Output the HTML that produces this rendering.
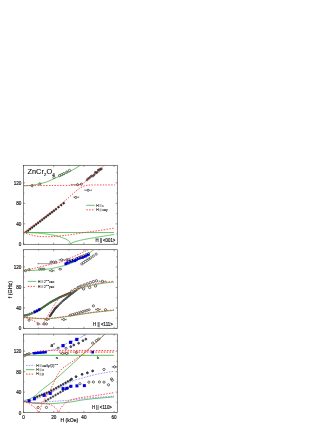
<!DOCTYPE html>
<html><head><meta charset="utf-8"><style>
html,body{margin:0;padding:0;background:#fff;}
svg{display:block;font-family:"Liberation Sans",sans-serif;}
text{stroke:#111;stroke-width:0.16px;} .lg{stroke-width:0.08px;}
</style></head><body>
<svg width="332" height="430" viewBox="0 0 332 430" style="will-change:transform">
<rect width="332" height="430" fill="#fff"/>
<defs>
<clipPath id="c0"><rect x="23.50" y="165.30" width="93.80" height="79.00"/></clipPath>
<clipPath id="c1"><rect x="23.50" y="249.70" width="93.80" height="78.70"/></clipPath>
<clipPath id="c2"><rect x="23.50" y="334.10" width="93.80" height="78.50"/></clipPath>
</defs>
<rect x="23.50" y="165.30" width="93.80" height="79.00" fill="none" stroke="#444" stroke-width="0.65"/>
<path d="M23.50 244.30h1.60 M117.30 244.30h-1.60 M23.50 234.06h0.90 M117.30 234.06h-0.90 M23.50 223.82h1.60 M117.30 223.82h-1.60 M23.50 213.58h0.90 M117.30 213.58h-0.90 M23.50 203.34h1.60 M117.30 203.34h-1.60 M23.50 193.10h0.90 M117.30 193.10h-0.90 M23.50 182.86h1.60 M117.30 182.86h-1.60 M23.50 172.62h0.90 M117.30 172.62h-0.90 M23.50 244.30v-1.60 M23.50 165.30v1.60 M38.60 244.30v-0.90 M38.60 165.30v0.90 M53.70 244.30v-1.60 M53.70 165.30v1.60 M68.80 244.30v-0.90 M68.80 165.30v0.90 M83.90 244.30v-1.60 M83.90 165.30v1.60 M99.00 244.30v-0.90 M99.00 165.30v0.90 M114.10 244.30v-1.60 M114.10 165.30v1.60 " stroke="#444" stroke-width="0.55" fill="none"/>
<rect x="23.50" y="249.70" width="93.80" height="78.70" fill="none" stroke="#444" stroke-width="0.65"/>
<path d="M23.50 328.40h1.60 M117.30 328.40h-1.60 M23.50 318.16h0.90 M117.30 318.16h-0.90 M23.50 307.92h1.60 M117.30 307.92h-1.60 M23.50 297.68h0.90 M117.30 297.68h-0.90 M23.50 287.44h1.60 M117.30 287.44h-1.60 M23.50 277.20h0.90 M117.30 277.20h-0.90 M23.50 266.96h1.60 M117.30 266.96h-1.60 M23.50 256.72h0.90 M117.30 256.72h-0.90 M23.50 328.40v-1.60 M23.50 249.70v1.60 M38.60 328.40v-0.90 M38.60 249.70v0.90 M53.70 328.40v-1.60 M53.70 249.70v1.60 M68.80 328.40v-0.90 M68.80 249.70v0.90 M83.90 328.40v-1.60 M83.90 249.70v1.60 M99.00 328.40v-0.90 M99.00 249.70v0.90 M114.10 328.40v-1.60 M114.10 249.70v1.60 " stroke="#444" stroke-width="0.55" fill="none"/>
<rect x="23.50" y="334.10" width="93.80" height="78.50" fill="none" stroke="#444" stroke-width="0.65"/>
<path d="M23.50 412.60h1.60 M117.30 412.60h-1.60 M23.50 402.36h0.90 M117.30 402.36h-0.90 M23.50 392.12h1.60 M117.30 392.12h-1.60 M23.50 381.88h0.90 M117.30 381.88h-0.90 M23.50 371.64h1.60 M117.30 371.64h-1.60 M23.50 361.40h0.90 M117.30 361.40h-0.90 M23.50 351.16h1.60 M117.30 351.16h-1.60 M23.50 340.92h0.90 M117.30 340.92h-0.90 M23.50 412.60v-1.60 M23.50 334.10v1.60 M38.60 412.60v-0.90 M38.60 334.10v0.90 M53.70 412.60v-1.60 M53.70 334.10v1.60 M68.80 412.60v-0.90 M68.80 334.10v0.90 M83.90 412.60v-1.60 M83.90 334.10v1.60 M99.00 412.60v-0.90 M99.00 334.10v0.90 M114.10 412.60v-1.60 M114.10 334.10v1.60 " stroke="#444" stroke-width="0.55" fill="none"/>
<text transform="translate(12.2,289.6) rotate(-90)" font-size="5.3" text-anchor="middle" fill="#111">f (GHz)</text>
<path d="M86.3 205.3H94.8" stroke="#33a833" stroke-width="0.7"/>
<path d="M86.3 209.8H94.8" stroke="#ff1a1a" stroke-width="0.8" stroke-dasharray="1.5 1.3"/>
<ellipse cx="60.19" cy="269.16" rx="1.5" ry="0.8" fill="#fff" stroke="#000" stroke-width="0.55"/>
<path d="M27.8 281.4H36.3" stroke="#33a833" stroke-width="0.7"/>
<path d="M27.8 286.4H36.3" stroke="#ff1a1a" stroke-width="0.8" stroke-dasharray="1.5 1.3"/>
<text x="55.80" y="359.00" font-size="4" font-weight="bold" fill="#33a833">a</text>
<text x="96.80" y="358.60" font-size="4" font-weight="bold" fill="#33a833">b</text>
<path d="M26 365.4H34.3" stroke="#3030ff" stroke-width="0.7" stroke-dasharray="0.65 0.95"/>
<path d="M26 369.7H34.3" stroke="#33a833" stroke-width="0.8"/>
<path d="M26 374.1H34.3" stroke="#ff1a1a" stroke-width="0.8" stroke-dasharray="1.5 1.3"/>
<circle cx="26.22" cy="232.07" r="0.90" fill="#333" stroke="#000" stroke-width="0.50" opacity="1.00"/>
<circle cx="28.20" cy="230.54" r="0.90" fill="#333" stroke="#000" stroke-width="0.50" opacity="1.00"/>
<circle cx="30.18" cy="229.02" r="0.90" fill="#333" stroke="#000" stroke-width="0.50" opacity="1.00"/>
<circle cx="32.17" cy="227.49" r="0.90" fill="#333" stroke="#000" stroke-width="0.50" opacity="1.00"/>
<circle cx="34.15" cy="225.96" r="0.90" fill="#333" stroke="#000" stroke-width="0.50" opacity="1.00"/>
<circle cx="36.13" cy="224.44" r="0.90" fill="#333" stroke="#000" stroke-width="0.50" opacity="1.00"/>
<circle cx="38.12" cy="222.91" r="0.90" fill="#333" stroke="#000" stroke-width="0.50" opacity="1.00"/>
<circle cx="40.10" cy="221.39" r="0.90" fill="#333" stroke="#000" stroke-width="0.50" opacity="1.00"/>
<circle cx="42.08" cy="219.86" r="0.90" fill="#333" stroke="#000" stroke-width="0.50" opacity="1.00"/>
<circle cx="44.07" cy="218.33" r="0.90" fill="#333" stroke="#000" stroke-width="0.50" opacity="1.00"/>
<circle cx="46.05" cy="216.81" r="0.90" fill="#333" stroke="#000" stroke-width="0.50" opacity="1.00"/>
<circle cx="48.03" cy="215.28" r="0.90" fill="#333" stroke="#000" stroke-width="0.50" opacity="1.00"/>
<circle cx="50.02" cy="213.75" r="0.90" fill="#333" stroke="#000" stroke-width="0.50" opacity="1.00"/>
<circle cx="52.00" cy="212.23" r="0.90" fill="#333" stroke="#000" stroke-width="0.50" opacity="1.00"/>
<circle cx="53.98" cy="210.70" r="0.90" fill="#333" stroke="#000" stroke-width="0.50" opacity="1.00"/>
<circle cx="55.97" cy="209.17" r="0.90" fill="#333" stroke="#000" stroke-width="0.50" opacity="1.00"/>
<circle cx="58.53" cy="207.20" r="0.90" fill="#333" stroke="#000" stroke-width="0.50" opacity="1.00"/>
<circle cx="61.25" cy="205.11" r="0.90" fill="#333" stroke="#000" stroke-width="0.50" opacity="1.00"/>
<circle cx="63.67" cy="203.25" r="0.90" fill="#333" stroke="#000" stroke-width="0.50" opacity="1.00"/>
<circle cx="86.92" cy="180.07" r="0.90" fill="#999" stroke="#000" stroke-width="0.50" opacity="1.00"/>
<circle cx="88.13" cy="178.58" r="0.90" fill="#999" stroke="#000" stroke-width="0.50" opacity="1.00"/>
<circle cx="89.34" cy="178.08" r="0.90" fill="#999" stroke="#000" stroke-width="0.50" opacity="1.00"/>
<circle cx="90.54" cy="176.74" r="0.90" fill="#999" stroke="#000" stroke-width="0.50" opacity="1.00"/>
<circle cx="91.75" cy="175.83" r="0.90" fill="#999" stroke="#000" stroke-width="0.50" opacity="1.00"/>
<circle cx="92.96" cy="176.12" r="0.90" fill="#999" stroke="#000" stroke-width="0.50" opacity="1.00"/>
<circle cx="94.32" cy="174.64" r="0.90" fill="#777" stroke="#000" stroke-width="0.50" opacity="1.00"/>
<circle cx="95.33" cy="172.28" r="0.90" fill="#777" stroke="#000" stroke-width="0.50" opacity="1.00"/>
<circle cx="96.35" cy="172.80" r="0.90" fill="#777" stroke="#000" stroke-width="0.50" opacity="1.00"/>
<circle cx="97.36" cy="172.18" r="0.90" fill="#777" stroke="#000" stroke-width="0.50" opacity="1.00"/>
<circle cx="98.37" cy="169.95" r="0.90" fill="#777" stroke="#000" stroke-width="0.50" opacity="1.00"/>
<circle cx="99.39" cy="170.35" r="0.90" fill="#777" stroke="#000" stroke-width="0.50" opacity="1.00"/>
<circle cx="100.40" cy="168.93" r="0.90" fill="#777" stroke="#000" stroke-width="0.50" opacity="1.00"/>
<circle cx="101.42" cy="169.00" r="0.90" fill="#777" stroke="#000" stroke-width="0.50" opacity="1.00"/>
<circle cx="32.11" cy="185.68" r="1.15" fill="#fff" stroke="#000" stroke-width="0.55" opacity="1.00"/>
<circle cx="39.81" cy="183.88" r="1.15" fill="#fff" stroke="#000" stroke-width="0.55" opacity="1.00"/>
<circle cx="54.00" cy="177.48" r="1.15" fill="#fff" stroke="#000" stroke-width="0.55" opacity="1.00"/>
<circle cx="59.59" cy="175.69" r="1.15" fill="#fff" stroke="#000" stroke-width="0.55" opacity="1.00"/>
<circle cx="63.82" cy="173.64" r="1.15" fill="#fff" stroke="#000" stroke-width="0.55" opacity="1.00"/>
<circle cx="66.84" cy="172.11" r="1.15" fill="#fff" stroke="#000" stroke-width="0.55" opacity="1.00"/>
<circle cx="69.56" cy="170.57" r="1.15" fill="#fff" stroke="#000" stroke-width="0.55" opacity="1.00"/>
<circle cx="61.70" cy="174.67" r="1.15" fill="#fff" stroke="#000" stroke-width="0.55" opacity="1.00"/>
<path d="M71.22 184.65H81.48 M71.22 183.85v1.6 M81.48 183.85v1.6" stroke="#333" stroke-width="0.45" fill="none"/>
<circle cx="77.56" cy="184.65" r="1.05" fill="#fff" stroke="#000" stroke-width="0.55" opacity="1.00"/>
<circle cx="81.33" cy="184.14" r="1.05" fill="#fff" stroke="#000" stroke-width="0.55" opacity="1.00"/>
<path d="M84.81 190.28H91.45 M84.81 189.48v1.6 M91.45 189.48v1.6" stroke="#333" stroke-width="0.45" fill="none"/>
<circle cx="88.13" cy="190.28" r="1.05" fill="#fff" stroke="#000" stroke-width="0.55" opacity="1.00"/>
<path d="M73.93 197.20H78.77 M73.93 196.40v1.6 M78.77 196.40v1.6" stroke="#333" stroke-width="0.45" fill="none"/>
<circle cx="75.75" cy="197.45" r="1.05" fill="#fff" stroke="#000" stroke-width="0.55" opacity="1.00"/>
<circle cx="49.92" cy="316.16" r="0.85" fill="#666" stroke="#000" stroke-width="0.50" opacity="1.00"/>
<circle cx="50.68" cy="315.06" r="0.85" fill="#666" stroke="#000" stroke-width="0.50" opacity="1.00"/>
<circle cx="51.44" cy="313.95" r="0.85" fill="#666" stroke="#000" stroke-width="0.50" opacity="1.00"/>
<circle cx="52.19" cy="312.84" r="0.85" fill="#666" stroke="#000" stroke-width="0.50" opacity="1.00"/>
<circle cx="52.95" cy="311.74" r="0.85" fill="#666" stroke="#000" stroke-width="0.50" opacity="1.00"/>
<circle cx="53.70" cy="310.63" r="0.85" fill="#666" stroke="#000" stroke-width="0.50" opacity="1.00"/>
<circle cx="54.45" cy="309.52" r="0.85" fill="#666" stroke="#000" stroke-width="0.50" opacity="1.00"/>
<circle cx="55.21" cy="308.49" r="0.85" fill="#666" stroke="#000" stroke-width="0.50" opacity="1.00"/>
<circle cx="55.97" cy="307.74" r="0.85" fill="#666" stroke="#000" stroke-width="0.50" opacity="1.00"/>
<circle cx="56.72" cy="306.99" r="0.85" fill="#666" stroke="#000" stroke-width="0.50" opacity="1.00"/>
<circle cx="57.93" cy="305.79" r="0.85" fill="#666" stroke="#000" stroke-width="0.50" opacity="1.00"/>
<circle cx="59.46" cy="304.27" r="0.85" fill="#666" stroke="#000" stroke-width="0.50" opacity="1.00"/>
<circle cx="61.00" cy="302.75" r="0.85" fill="#666" stroke="#000" stroke-width="0.50" opacity="1.00"/>
<circle cx="62.53" cy="301.23" r="0.85" fill="#666" stroke="#000" stroke-width="0.50" opacity="1.00"/>
<circle cx="64.07" cy="299.94" r="0.85" fill="#666" stroke="#000" stroke-width="0.50" opacity="1.00"/>
<circle cx="65.60" cy="298.69" r="0.85" fill="#666" stroke="#000" stroke-width="0.50" opacity="1.00"/>
<circle cx="67.14" cy="297.43" r="0.85" fill="#666" stroke="#000" stroke-width="0.50" opacity="1.00"/>
<circle cx="68.67" cy="296.18" r="0.85" fill="#666" stroke="#000" stroke-width="0.50" opacity="1.00"/>
<circle cx="70.21" cy="294.93" r="0.85" fill="#666" stroke="#000" stroke-width="0.50" opacity="1.00"/>
<circle cx="71.74" cy="293.75" r="0.85" fill="#666" stroke="#000" stroke-width="0.50" opacity="1.00"/>
<circle cx="73.28" cy="292.58" r="0.85" fill="#666" stroke="#000" stroke-width="0.50" opacity="1.00"/>
<circle cx="74.81" cy="291.40" r="0.85" fill="#666" stroke="#000" stroke-width="0.50" opacity="1.00"/>
<circle cx="76.35" cy="290.23" r="0.85" fill="#666" stroke="#000" stroke-width="0.50" opacity="1.00"/>
<circle cx="25.01" cy="315.41" r="0.95" fill="#999" stroke="#000" stroke-width="0.55" opacity="1.00"/>
<circle cx="27.27" cy="314.98" r="0.95" fill="#999" stroke="#000" stroke-width="0.55" opacity="1.00"/>
<circle cx="29.54" cy="314.20" r="0.95" fill="#999" stroke="#000" stroke-width="0.55" opacity="1.00"/>
<circle cx="31.80" cy="313.25" r="0.95" fill="#999" stroke="#000" stroke-width="0.55" opacity="1.00"/>
<circle cx="39.36" cy="309.65" r="0.85" fill="#666" stroke="#000" stroke-width="0.50" opacity="1.00"/>
<circle cx="40.83" cy="308.76" r="0.85" fill="#666" stroke="#000" stroke-width="0.50" opacity="1.00"/>
<circle cx="42.30" cy="307.81" r="0.85" fill="#666" stroke="#000" stroke-width="0.50" opacity="1.00"/>
<circle cx="43.78" cy="306.80" r="0.85" fill="#666" stroke="#000" stroke-width="0.50" opacity="1.00"/>
<circle cx="45.25" cy="305.79" r="0.85" fill="#666" stroke="#000" stroke-width="0.50" opacity="1.00"/>
<circle cx="46.73" cy="304.79" r="0.85" fill="#666" stroke="#000" stroke-width="0.50" opacity="1.00"/>
<circle cx="48.20" cy="303.78" r="0.85" fill="#666" stroke="#000" stroke-width="0.50" opacity="1.00"/>
<circle cx="49.67" cy="302.77" r="0.85" fill="#666" stroke="#000" stroke-width="0.50" opacity="1.00"/>
<circle cx="51.15" cy="301.90" r="0.85" fill="#666" stroke="#000" stroke-width="0.50" opacity="1.00"/>
<circle cx="52.62" cy="301.10" r="0.85" fill="#666" stroke="#000" stroke-width="0.50" opacity="1.00"/>
<circle cx="54.10" cy="300.31" r="0.85" fill="#666" stroke="#000" stroke-width="0.50" opacity="1.00"/>
<circle cx="55.57" cy="299.51" r="0.85" fill="#666" stroke="#000" stroke-width="0.50" opacity="1.00"/>
<circle cx="57.04" cy="298.72" r="0.85" fill="#666" stroke="#000" stroke-width="0.50" opacity="1.00"/>
<circle cx="58.52" cy="297.93" r="0.85" fill="#666" stroke="#000" stroke-width="0.50" opacity="1.00"/>
<circle cx="59.99" cy="297.17" r="0.85" fill="#666" stroke="#000" stroke-width="0.50" opacity="1.00"/>
<circle cx="61.47" cy="296.55" r="0.85" fill="#666" stroke="#000" stroke-width="0.50" opacity="1.00"/>
<circle cx="62.94" cy="295.93" r="0.85" fill="#666" stroke="#000" stroke-width="0.50" opacity="1.00"/>
<circle cx="64.41" cy="295.32" r="0.85" fill="#666" stroke="#000" stroke-width="0.50" opacity="1.00"/>
<circle cx="65.89" cy="294.70" r="0.85" fill="#666" stroke="#000" stroke-width="0.50" opacity="1.00"/>
<circle cx="67.36" cy="294.09" r="0.85" fill="#666" stroke="#000" stroke-width="0.50" opacity="1.00"/>
<circle cx="68.84" cy="293.47" r="0.85" fill="#666" stroke="#000" stroke-width="0.50" opacity="1.00"/>
<circle cx="70.31" cy="292.85" r="0.85" fill="#666" stroke="#000" stroke-width="0.50" opacity="1.00"/>
<circle cx="71.82" cy="291.27" r="1.20" fill="#fff" stroke="#000" stroke-width="0.55" opacity="1.00"/>
<circle cx="74.90" cy="289.54" r="1.20" fill="#fff" stroke="#000" stroke-width="0.55" opacity="1.00"/>
<circle cx="77.97" cy="287.82" r="1.20" fill="#fff" stroke="#000" stroke-width="0.55" opacity="1.00"/>
<circle cx="81.05" cy="286.18" r="1.20" fill="#fff" stroke="#000" stroke-width="0.55" opacity="1.00"/>
<circle cx="84.13" cy="285.02" r="1.20" fill="#fff" stroke="#000" stroke-width="0.55" opacity="1.00"/>
<circle cx="87.20" cy="283.87" r="1.20" fill="#fff" stroke="#000" stroke-width="0.55" opacity="1.00"/>
<circle cx="90.28" cy="282.72" r="1.20" fill="#fff" stroke="#000" stroke-width="0.55" opacity="1.00"/>
<circle cx="93.36" cy="281.64" r="1.20" fill="#fff" stroke="#000" stroke-width="0.55" opacity="1.00"/>
<circle cx="96.43" cy="280.83" r="1.20" fill="#fff" stroke="#000" stroke-width="0.55" opacity="1.00"/>
<circle cx="79.07" cy="287.18" r="1.20" fill="#fff" stroke="#000" stroke-width="0.55" opacity="1.00"/>
<circle cx="83.60" cy="288.92" r="1.20" fill="#fff" stroke="#000" stroke-width="0.55" opacity="1.00"/>
<circle cx="89.64" cy="287.39" r="1.20" fill="#fff" stroke="#000" stroke-width="0.55" opacity="1.00"/>
<circle cx="95.53" cy="285.90" r="1.20" fill="#fff" stroke="#000" stroke-width="0.55" opacity="1.00"/>
<path d="M99.15 281.30H105.80 M99.15 280.50v1.6 M105.80 280.50v1.6" stroke="#333" stroke-width="0.45" fill="none"/>
<circle cx="102.47" cy="281.30" r="1.05" fill="#fff" stroke="#000" stroke-width="0.55" opacity="1.00"/>
<circle cx="29.09" cy="320.21" r="1.10" fill="#fff" stroke="#000" stroke-width="0.55" opacity="1.00"/>
<circle cx="38.15" cy="324.00" r="1.10" fill="#fff" stroke="#000" stroke-width="0.55" opacity="1.00"/>
<circle cx="44.04" cy="324.00" r="1.10" fill="#fff" stroke="#000" stroke-width="0.55" opacity="1.00"/>
<circle cx="46.45" cy="323.89" r="1.10" fill="#fff" stroke="#000" stroke-width="0.55" opacity="1.00"/>
<path d="M44.79 319.49H49.32 M44.79 318.69v1.6 M49.32 318.69v1.6" stroke="#333" stroke-width="0.45" fill="none"/>
<circle cx="47.06" cy="319.49" r="1.05" fill="#fff" stroke="#000" stroke-width="0.55" opacity="1.00"/>
<path d="M61.40 319.49H66.23 M61.40 318.69v1.6 M66.23 318.69v1.6" stroke="#333" stroke-width="0.45" fill="none"/>
<circle cx="63.82" cy="319.49" r="1.05" fill="#fff" stroke="#000" stroke-width="0.55" opacity="1.00"/>
<circle cx="70.31" cy="315.19" r="1.05" fill="#fff" stroke="#000" stroke-width="0.50" opacity="1.00"/>
<circle cx="72.41" cy="314.59" r="1.05" fill="#fff" stroke="#000" stroke-width="0.50" opacity="1.00"/>
<circle cx="74.50" cy="313.98" r="1.05" fill="#fff" stroke="#000" stroke-width="0.50" opacity="1.00"/>
<circle cx="76.60" cy="313.38" r="1.05" fill="#fff" stroke="#000" stroke-width="0.50" opacity="1.00"/>
<circle cx="78.70" cy="312.77" r="1.05" fill="#fff" stroke="#000" stroke-width="0.50" opacity="1.00"/>
<circle cx="80.80" cy="312.17" r="1.05" fill="#fff" stroke="#000" stroke-width="0.50" opacity="1.00"/>
<circle cx="82.89" cy="311.56" r="1.05" fill="#fff" stroke="#000" stroke-width="0.50" opacity="1.00"/>
<circle cx="84.99" cy="310.96" r="1.05" fill="#fff" stroke="#000" stroke-width="0.50" opacity="1.00"/>
<circle cx="87.09" cy="310.35" r="1.05" fill="#fff" stroke="#000" stroke-width="0.50" opacity="1.00"/>
<circle cx="89.19" cy="309.75" r="1.05" fill="#fff" stroke="#000" stroke-width="0.50" opacity="1.00"/>
<circle cx="93.41" cy="305.87" r="1.10" fill="#fff" stroke="#000" stroke-width="0.55" opacity="1.00"/>
<path d="M95.53 309.46H100.36 M95.53 308.66v1.6 M100.36 308.66v1.6" stroke="#333" stroke-width="0.45" fill="none"/>
<circle cx="97.94" cy="309.46" r="1.10" fill="#fff" stroke="#000" stroke-width="0.55" opacity="1.00"/>
<circle cx="105.49" cy="309.71" r="1.10" fill="#fff" stroke="#000" stroke-width="0.55" opacity="1.00"/>
<circle cx="25.46" cy="270.70" r="1.10" fill="#fff" stroke="#000" stroke-width="0.55" opacity="1.00"/>
<circle cx="29.09" cy="269.67" r="1.10" fill="#fff" stroke="#000" stroke-width="0.55" opacity="1.00"/>
<path d="M38.00 263.63H50.08 M38.00 262.83v1.6 M50.08 262.83v1.6" stroke="#333" stroke-width="0.45" fill="none"/>
<circle cx="51.13" cy="262.10" r="1.10" fill="#fff" stroke="#000" stroke-width="0.55" opacity="1.00"/>
<circle cx="53.40" cy="262.10" r="1.10" fill="#fff" stroke="#000" stroke-width="0.55" opacity="1.00"/>
<circle cx="55.81" cy="262.10" r="1.10" fill="#fff" stroke="#000" stroke-width="0.55" opacity="1.00"/>
<path d="M59.14 259.79H63.97 M59.14 258.99v1.6 M63.97 258.99v1.6" stroke="#333" stroke-width="0.45" fill="none"/>
<circle cx="61.55" cy="259.79" r="1.05" fill="#fff" stroke="#000" stroke-width="0.55" opacity="1.00"/>
<circle cx="39.66" cy="269.16" r="1.05" fill="#fff" stroke="#000" stroke-width="0.55" opacity="1.00"/>
<circle cx="41.92" cy="269.16" r="1.05" fill="#fff" stroke="#000" stroke-width="0.55" opacity="1.00"/>
<circle cx="44.04" cy="269.16" r="1.05" fill="#fff" stroke="#000" stroke-width="0.55" opacity="1.00"/>
<path d="M49.32 270.70H54.15 M49.32 269.90v1.6 M54.15 269.90v1.6" stroke="#333" stroke-width="0.45" fill="none"/>
<circle cx="51.74" cy="270.70" r="1.05" fill="#fff" stroke="#000" stroke-width="0.55" opacity="1.00"/>
<circle cx="66.84" cy="259.79" r="1.10" fill="#fff" stroke="#000" stroke-width="0.55" opacity="1.00"/>
<circle cx="68.80" cy="259.79" r="1.10" fill="#fff" stroke="#000" stroke-width="0.55" opacity="1.00"/>
<circle cx="81.79" cy="263.89" r="1.15" fill="#fff" stroke="#000" stroke-width="0.50" opacity="1.00"/>
<circle cx="83.57" cy="262.68" r="1.15" fill="#fff" stroke="#000" stroke-width="0.50" opacity="1.00"/>
<circle cx="85.35" cy="261.47" r="1.15" fill="#fff" stroke="#000" stroke-width="0.50" opacity="1.00"/>
<circle cx="87.13" cy="260.26" r="1.15" fill="#fff" stroke="#000" stroke-width="0.50" opacity="1.00"/>
<circle cx="88.91" cy="259.05" r="1.15" fill="#fff" stroke="#000" stroke-width="0.50" opacity="1.00"/>
<circle cx="90.70" cy="257.85" r="1.15" fill="#fff" stroke="#000" stroke-width="0.50" opacity="1.00"/>
<circle cx="93.26" cy="256.11" r="1.15" fill="#fff" stroke="#000" stroke-width="0.50" opacity="1.00"/>
<circle cx="96.13" cy="254.16" r="1.15" fill="#fff" stroke="#000" stroke-width="0.50" opacity="1.00"/>
<circle cx="34.83" cy="397.56" r="0.90" fill="#444" stroke="#000" stroke-width="0.50" opacity="1.00"/>
<circle cx="37.19" cy="396.66" r="0.90" fill="#444" stroke="#000" stroke-width="0.50" opacity="1.00"/>
<circle cx="39.56" cy="395.69" r="0.90" fill="#444" stroke="#000" stroke-width="0.50" opacity="1.00"/>
<circle cx="41.92" cy="394.73" r="0.90" fill="#444" stroke="#000" stroke-width="0.50" opacity="1.00"/>
<circle cx="44.29" cy="393.77" r="0.90" fill="#444" stroke="#000" stroke-width="0.50" opacity="1.00"/>
<circle cx="46.65" cy="392.81" r="0.90" fill="#444" stroke="#000" stroke-width="0.50" opacity="1.00"/>
<circle cx="49.02" cy="391.84" r="0.90" fill="#444" stroke="#000" stroke-width="0.50" opacity="1.00"/>
<circle cx="51.38" cy="390.70" r="0.90" fill="#444" stroke="#000" stroke-width="0.50" opacity="1.00"/>
<circle cx="53.75" cy="389.38" r="0.90" fill="#444" stroke="#000" stroke-width="0.50" opacity="1.00"/>
<circle cx="56.12" cy="388.05" r="0.90" fill="#444" stroke="#000" stroke-width="0.50" opacity="1.00"/>
<circle cx="58.48" cy="386.72" r="0.90" fill="#444" stroke="#000" stroke-width="0.50" opacity="1.00"/>
<circle cx="60.85" cy="385.40" r="0.90" fill="#444" stroke="#000" stroke-width="0.50" opacity="1.00"/>
<circle cx="63.21" cy="384.07" r="0.90" fill="#444" stroke="#000" stroke-width="0.50" opacity="1.00"/>
<circle cx="65.58" cy="382.74" r="0.90" fill="#444" stroke="#000" stroke-width="0.50" opacity="1.00"/>
<circle cx="67.94" cy="381.42" r="0.90" fill="#444" stroke="#000" stroke-width="0.50" opacity="1.00"/>
<circle cx="70.31" cy="380.20" r="0.90" fill="#444" stroke="#000" stroke-width="0.50" opacity="1.00"/>
<circle cx="71.52" cy="379.06" r="1.00" fill="#555" stroke="#000" stroke-width="0.60" opacity="1.00"/>
<circle cx="76.05" cy="376.66" r="1.00" fill="#555" stroke="#000" stroke-width="0.60" opacity="1.00"/>
<circle cx="82.09" cy="374.35" r="1.00" fill="#555" stroke="#000" stroke-width="0.60" opacity="1.00"/>
<circle cx="87.37" cy="372.87" r="1.00" fill="#555" stroke="#000" stroke-width="0.60" opacity="1.00"/>
<circle cx="92.66" cy="370.92" r="1.00" fill="#555" stroke="#000" stroke-width="0.60" opacity="1.00"/>
<circle cx="103.98" cy="369.44" r="1.15" fill="#fff" stroke="#000" stroke-width="0.55" opacity="1.00"/>
<path d="M112.29 366.83H116.82 M112.29 366.03v1.6 M116.82 366.03v1.6" stroke="#333" stroke-width="0.45" fill="none"/>
<circle cx="114.55" cy="366.83" r="1.10" fill="#fff" stroke="#000" stroke-width="0.55" opacity="1.00"/>
<circle cx="111.53" cy="378.96" r="1.10" fill="#fff" stroke="#000" stroke-width="0.55" opacity="1.00"/>
<circle cx="45.70" cy="400.82" r="0.85" fill="#666" stroke="#000" stroke-width="0.50" opacity="1.00"/>
<circle cx="48.16" cy="399.39" r="0.85" fill="#666" stroke="#000" stroke-width="0.50" opacity="1.00"/>
<circle cx="50.62" cy="397.95" r="0.85" fill="#666" stroke="#000" stroke-width="0.50" opacity="1.00"/>
<circle cx="53.08" cy="396.52" r="0.85" fill="#666" stroke="#000" stroke-width="0.50" opacity="1.00"/>
<circle cx="55.54" cy="395.08" r="0.85" fill="#666" stroke="#000" stroke-width="0.50" opacity="1.00"/>
<circle cx="58.00" cy="393.65" r="0.85" fill="#666" stroke="#000" stroke-width="0.50" opacity="1.00"/>
<circle cx="60.46" cy="392.21" r="0.85" fill="#666" stroke="#000" stroke-width="0.50" opacity="1.00"/>
<circle cx="62.93" cy="390.78" r="0.85" fill="#666" stroke="#000" stroke-width="0.50" opacity="1.00"/>
<circle cx="65.39" cy="389.34" r="0.85" fill="#666" stroke="#000" stroke-width="0.50" opacity="1.00"/>
<circle cx="67.85" cy="387.91" r="0.85" fill="#666" stroke="#000" stroke-width="0.50" opacity="1.00"/>
<circle cx="70.31" cy="386.47" r="0.85" fill="#666" stroke="#000" stroke-width="0.50" opacity="1.00"/>
<circle cx="79.97" cy="383.67" r="1.10" fill="#fff" stroke="#000" stroke-width="0.55" opacity="1.00"/>
<circle cx="88.88" cy="382.19" r="1.10" fill="#fff" stroke="#000" stroke-width="0.55" opacity="1.00"/>
<circle cx="93.41" cy="381.98" r="1.10" fill="#fff" stroke="#000" stroke-width="0.55" opacity="1.00"/>
<circle cx="99.45" cy="381.98" r="1.10" fill="#fff" stroke="#000" stroke-width="0.55" opacity="1.00"/>
<circle cx="103.98" cy="382.19" r="1.10" fill="#fff" stroke="#000" stroke-width="0.55" opacity="1.00"/>
<circle cx="112.29" cy="380.29" r="1.10" fill="#fff" stroke="#000" stroke-width="0.55" opacity="1.00"/>
<circle cx="108.51" cy="384.80" r="1.10" fill="#fff" stroke="#000" stroke-width="0.55" opacity="1.00"/>
<circle cx="38.15" cy="407.48" r="1.10" fill="#fff" stroke="#000" stroke-width="0.55" opacity="1.00"/>
<circle cx="46.45" cy="407.48" r="1.10" fill="#fff" stroke="#000" stroke-width="0.55" opacity="1.00"/>
<circle cx="24.71" cy="355.51" r="1.10" fill="#fff" stroke="#000" stroke-width="0.55" opacity="1.00"/>
<circle cx="26.82" cy="354.49" r="1.10" fill="#fff" stroke="#000" stroke-width="0.55" opacity="1.00"/>
<circle cx="29.09" cy="353.72" r="1.10" fill="#fff" stroke="#000" stroke-width="0.55" opacity="1.00"/>
<circle cx="58.08" cy="348.14" r="1.05" fill="#fff" stroke="#000" stroke-width="0.55" opacity="1.00"/>
<circle cx="66.08" cy="348.34" r="1.05" fill="#fff" stroke="#000" stroke-width="0.55" opacity="1.00"/>
<path d="M60.49 353.46H64.72 M60.49 352.66v1.6 M64.72 352.66v1.6" stroke="#333" stroke-width="0.45" fill="none"/>
<circle cx="62.61" cy="353.46" r="1.05" fill="#fff" stroke="#000" stroke-width="0.55" opacity="1.00"/>
<path d="M65.18 353.46H68.20 M65.18 352.66v1.6 M68.20 352.66v1.6" stroke="#333" stroke-width="0.45" fill="none"/>
<circle cx="66.69" cy="353.46" r="1.05" fill="#fff" stroke="#000" stroke-width="0.55" opacity="1.00"/>
<circle cx="70.76" cy="346.65" r="0.95" fill="#777" stroke="#000" stroke-width="0.60" opacity="1.00"/>
<circle cx="73.78" cy="345.02" r="0.95" fill="#777" stroke="#000" stroke-width="0.60" opacity="1.00"/>
<circle cx="78.62" cy="343.22" r="0.95" fill="#777" stroke="#000" stroke-width="0.60" opacity="1.00"/>
<circle cx="82.99" cy="340.66" r="0.95" fill="#777" stroke="#000" stroke-width="0.60" opacity="1.00"/>
<circle cx="85.86" cy="339.13" r="0.95" fill="#777" stroke="#000" stroke-width="0.60" opacity="1.00"/>
<circle cx="92.66" cy="343.12" r="1.10" fill="#fff" stroke="#000" stroke-width="0.55" opacity="1.00"/>
<circle cx="96.43" cy="340.66" r="1.10" fill="#fff" stroke="#000" stroke-width="0.55" opacity="1.00"/>
<circle cx="98.70" cy="339.13" r="1.10" fill="#fff" stroke="#000" stroke-width="0.55" opacity="1.00"/>
<circle cx="76.35" cy="352.44" r="1.10" fill="#fff" stroke="#000" stroke-width="0.55" opacity="1.00"/>
<path clip-path="url(#c0)" d="M23.50 185.83 C24.76 185.74 28.33 185.66 31.05 185.32 C33.77 184.98 37.04 184.40 39.81 183.78 C42.58 183.16 45.17 182.48 47.66 181.58 C50.15 180.68 52.49 179.38 54.76 178.35 C57.02 177.33 58.68 176.61 61.25 175.44 C63.82 174.27 66.79 173.13 70.16 171.34 C73.53 169.55 78.69 166.43 81.48 164.68 C84.28 162.93 86.01 161.48 86.92 160.84" fill="none" stroke="#33a833" stroke-width="0.70"/>
<polyline clip-path="url(#c0)" points="23.50,232.50 114.10,232.50" fill="none" stroke="#33a833" stroke-width="0.70" />
<polyline clip-path="url(#c0)" points="23.50,232.52 24.68,232.53 25.86,232.54 27.04,232.56 28.23,232.58 29.41,232.62 30.59,232.66 31.77,232.71 32.95,232.76 34.13,232.83 35.32,232.90 36.50,232.98 37.68,233.07 38.86,233.16 40.04,233.27 41.22,233.38 42.41,233.51 43.59,233.64 44.77,233.78 45.95,233.94 47.13,234.10 48.31,234.28 49.49,234.47 50.68,234.67 51.86,234.88 53.04,235.11 54.22,235.35 55.40,235.61 56.58,235.89 57.77,236.19 58.95,236.51 60.13,236.86 61.31,237.23 62.49,237.64 63.67,238.10 64.86,238.60 66.04,239.17 67.22,239.83 68.40,240.62 69.58,241.68 70.76,244.30 71.85,243.02 72.93,242.47 74.01,242.05 75.10,241.69 76.18,241.37 77.26,241.07 78.35,240.79 79.43,240.53 80.51,240.28 81.60,240.04 82.68,239.81 83.76,239.58 84.85,239.37 85.93,239.15 87.01,238.95 88.10,238.75 89.18,238.55 90.26,238.35 91.35,238.16 92.43,237.97 93.51,237.78 94.60,237.60 95.68,237.42 96.77,237.24 97.85,237.06 98.93,236.88 100.02,236.71 101.10,236.54 102.18,236.37 103.27,236.20 104.35,236.03 105.43,235.86 106.52,235.69 107.60,235.53 108.68,235.36 109.77,235.20 110.85,235.03 111.93,234.87 113.02,234.71 114.10,234.55" fill="none" stroke="#33a833" stroke-width="0.70" />
<path clip-path="url(#c0)" d="M23.50 185.62 C28.53 185.61 45.65 185.57 53.70 185.52 C61.75 185.47 67.67 185.41 71.82 185.32 C75.97 185.22 76.68 185.32 78.62 184.96 C80.55 184.60 81.86 184.17 83.45 183.17 C85.03 182.17 86.34 180.50 88.13 178.97 C89.91 177.44 92.15 175.73 94.17 174.00 C96.18 172.28 98.55 170.03 100.21 168.63 C101.87 167.23 102.57 166.82 104.13 165.61 C105.69 164.39 108.66 162.06 109.57 161.36" fill="none" stroke="#ff1a1a" stroke-width="0.75" stroke-dasharray="1.5 1.3"/>
<path clip-path="url(#c0)" d="M23.50 232.52 C24.46 232.82 26.77 233.68 29.24 234.32 C31.70 234.95 34.77 235.93 38.30 236.31 C41.82 236.70 46.38 236.73 50.38 236.62 C54.38 236.51 59.01 235.96 62.31 235.65 C65.60 235.33 66.08 235.30 70.16 234.73 C74.24 234.15 81.74 232.94 86.77 232.22 C91.80 231.49 95.83 231.06 100.36 230.37 C104.89 229.69 111.68 228.50 113.95 228.12" fill="none" stroke="#ff1a1a" stroke-width="0.75" stroke-dasharray="1.5 1.3"/>
<path clip-path="url(#c0)" d="M23.50 232.52 C25.46 231.06 30.24 227.51 35.28 223.72 C40.31 219.93 48.49 213.84 53.70 209.79 C58.91 205.75 62.81 202.58 66.53 199.45 C70.26 196.32 73.43 193.12 76.05 191.00 C78.67 188.88 80.23 187.72 82.24 186.75 C84.25 185.78 86.14 185.46 88.13 185.16 C90.12 184.87 91.50 184.99 94.17 184.96 C96.84 184.93 100.69 184.97 104.13 184.96 C107.58 184.95 113.07 184.92 114.86 184.91" fill="none" stroke="#ff1a1a" stroke-width="0.75" stroke-dasharray="1.5 1.3"/>
<path clip-path="url(#c1)" d="M23.50 270.70 C25.51 270.63 31.63 270.54 35.58 270.29 C39.53 270.04 43.68 269.68 47.21 269.21 C50.73 268.74 52.89 268.39 56.72 267.47 C60.55 266.56 66.13 265.27 70.16 263.73 C74.19 262.20 77.08 260.49 80.88 258.26 C84.68 256.02 89.94 252.37 92.96 250.32 C95.98 248.27 97.99 246.69 99.00 245.97" fill="none" stroke="#33a833" stroke-width="0.70"/>
<path clip-path="url(#c1)" d="M23.50 316.47 C24.25 316.33 26.09 316.24 28.03 315.60 C29.97 314.96 32.86 313.78 35.13 312.63 C37.39 311.48 39.10 310.33 41.62 308.69 C44.14 307.05 47.21 304.63 50.23 302.80 C53.25 300.97 56.42 299.26 59.74 297.68 C63.06 296.10 66.69 294.86 70.16 293.33 C73.63 291.79 76.83 289.84 80.58 288.46 C84.33 287.09 88.63 285.99 92.66 285.08 C96.68 284.18 101.16 283.54 104.74 283.04 C108.31 282.53 112.54 282.23 114.10 282.06" fill="none" stroke="#33a833" stroke-width="0.70"/>
<path clip-path="url(#c1)" d="M23.50 317.14 C24.76 317.28 28.03 317.75 31.05 318.01 C34.07 318.26 37.85 318.62 41.62 318.67 C45.40 318.72 48.99 318.74 53.70 318.31 C58.41 317.89 63.36 317.06 69.86 316.11 C76.35 315.16 85.28 313.59 92.66 312.63 C100.03 311.67 110.53 310.71 114.10 310.33" fill="none" stroke="#33a833" stroke-width="0.70"/>
<path clip-path="url(#c1)" d="M23.50 317.14 C24.76 317.26 28.03 317.65 31.05 317.85 C34.07 318.06 37.85 318.36 41.62 318.36 C45.40 318.37 48.99 318.35 53.70 317.90 C58.41 317.46 63.36 316.64 69.86 315.70 C76.35 314.76 85.28 313.24 92.66 312.27 C100.03 311.30 110.53 310.27 114.10 309.87" fill="none" stroke="#ff1a1a" stroke-width="0.75" stroke-dasharray="1.5 1.3"/>
<path clip-path="url(#c1)" d="M23.50 317.14 C24.51 317.43 27.53 318.16 29.54 318.93 C31.55 319.70 33.69 320.87 35.58 321.74 C37.47 322.62 39.61 323.90 40.86 324.20 C42.12 324.50 42.25 324.46 43.13 323.54 C44.01 322.61 44.89 320.76 46.15 318.67 C47.41 316.58 48.74 314.15 50.68 310.99 C52.62 307.83 56.02 302.12 57.78 299.73 C59.54 297.34 59.92 297.55 61.25 296.66 C62.58 295.76 65.03 294.74 65.78 294.35" fill="none" stroke="#ff1a1a" stroke-width="0.75" stroke-dasharray="1.5 1.3"/>
<path clip-path="url(#c1)" d="M65.78 294.20 C66.51 293.97 67.69 293.86 70.16 292.82 C72.63 291.77 76.83 289.36 80.58 287.95 C84.33 286.54 88.63 285.31 92.66 284.37 C96.68 283.43 101.16 282.86 104.74 282.32 C108.31 281.78 112.54 281.34 114.10 281.14" fill="none" stroke="#ff1a1a" stroke-width="0.75" stroke-dasharray="1.5 1.3"/>
<path clip-path="url(#c1)" d="M23.50 270.70 C25.51 270.25 31.13 269.03 35.58 267.98 C40.03 266.93 46.15 265.37 50.23 264.40 C54.30 263.43 56.39 263.34 60.04 262.15 C63.69 260.95 68.12 258.96 72.12 257.23 C76.12 255.51 81.23 253.11 84.05 251.80 C86.87 250.50 87.30 250.29 89.03 249.40 C90.77 248.51 93.56 246.97 94.47 246.48" fill="none" stroke="#ff1a1a" stroke-width="0.75" stroke-dasharray="1.5 1.3"/>
<polyline clip-path="url(#c2)" points="23.50,355.31 114.10,355.31" fill="none" stroke="#33a833" stroke-width="0.80" />
<path clip-path="url(#c2)" d="M23.50 400.67 C24.51 400.40 27.60 399.86 29.54 399.03 C31.48 398.20 33.37 396.98 35.13 395.70 C36.89 394.42 37.59 393.40 40.11 391.35 C42.63 389.30 47.53 385.55 50.23 383.42 C52.92 381.28 54.00 380.50 56.27 378.55 C58.53 376.61 61.50 373.83 63.82 371.74 C66.13 369.65 63.34 372.25 70.16 366.01 C76.98 359.76 98.17 340.30 104.74 334.26 C111.31 328.23 108.76 330.55 109.57 329.81" fill="none" stroke="#33a833" stroke-width="0.70"/>
<path clip-path="url(#c2)" d="M23.50 401.34 C24.51 401.52 27.60 402.12 29.54 402.46 C31.48 402.80 31.68 403.18 35.13 403.38 C38.57 403.59 44.44 403.90 50.23 403.69 C56.02 403.48 64.87 402.67 69.86 402.10 C74.84 401.54 76.32 400.87 80.12 400.31 C83.93 399.76 87.00 399.34 92.66 398.78 C98.32 398.21 110.53 397.24 114.10 396.93" fill="none" stroke="#33a833" stroke-width="0.70"/>
<path clip-path="url(#c2)" d="M23.50 354.90 C24.76 354.72 28.36 354.27 31.05 353.82 C33.74 353.37 35.71 352.93 39.66 352.18 C43.61 351.44 50.48 350.71 54.76 349.37 C59.04 348.03 61.53 345.89 65.33 344.15 C69.13 342.40 74.01 340.52 77.56 338.87 C81.11 337.23 84.05 335.63 86.62 334.26 C89.19 332.90 91.90 331.28 92.96 330.68" fill="none" stroke="#3030ff" stroke-width="0.70" stroke-dasharray="0.65 0.95"/>
<path clip-path="url(#c2)" d="M23.50 401.34 C24.25 401.25 26.09 401.17 28.03 400.82 C29.97 400.48 31.43 400.57 35.13 399.29 C38.83 398.01 44.44 396.00 50.23 393.14 C56.02 390.29 64.04 384.78 69.86 382.14 C75.67 379.49 80.05 378.71 85.11 377.27 C90.17 375.84 95.38 374.52 100.21 373.53 C105.04 372.54 111.78 371.70 114.10 371.33" fill="none" stroke="#3030ff" stroke-width="0.70" stroke-dasharray="0.65 0.95"/>
<path clip-path="url(#c2)" d="M23.50 401.34 C24.51 401.51 27.27 402.13 29.54 402.36 C31.80 402.59 33.64 402.85 37.09 402.72 C40.54 402.59 44.77 402.02 50.23 401.59 C55.69 401.17 64.87 400.60 69.86 400.16 C74.84 399.71 76.32 399.33 80.12 398.93 C83.93 398.53 87.00 398.23 92.66 397.75 C98.32 397.27 110.53 396.34 114.10 396.06" fill="none" stroke="#3030ff" stroke-width="0.70" stroke-dasharray="0.65 0.95"/>
<path clip-path="url(#c2)" d="M23.50 354.90 C24.51 354.70 27.53 354.21 29.54 353.72 C31.55 353.23 33.57 352.42 35.58 351.93 C37.59 351.43 39.61 351.01 41.62 350.75 C43.63 350.49 43.13 350.45 47.66 350.39 C52.19 350.33 57.73 350.37 68.80 350.39 C79.87 350.42 106.55 350.52 114.10 350.55" fill="none" stroke="#ff1a1a" stroke-width="0.80" stroke-dasharray="1.5 1.3"/>
<path d="M57.48 352.08H114.10" stroke="#ff1a1a" stroke-width="0.9" stroke-dasharray="1.5 1.3" stroke-dashoffset="1.4" fill="none"/>
<path clip-path="url(#c2)" d="M23.50 401.34 C24.43 401.73 27.15 402.62 29.09 403.69 C31.02 404.76 33.49 406.29 35.13 407.74 C36.76 409.18 38.07 411.96 38.90 412.34 C39.73 412.73 39.48 411.70 40.11 410.04 C40.74 408.38 40.99 405.69 42.68 402.36 C44.36 399.03 47.96 394.25 50.23 390.07 C52.49 385.89 54.51 380.60 56.27 377.27 C58.03 373.94 59.04 372.11 60.80 370.10 C62.56 368.10 65.00 366.61 66.84 365.24 C68.67 363.87 69.98 363.19 71.82 361.91 C73.66 360.63 75.59 359.18 77.86 357.56 C80.12 355.94 80.93 356.07 85.41 352.18 C89.89 348.30 100.96 337.76 104.74 334.26 C108.51 330.77 107.51 331.70 108.06 331.19" fill="none" stroke="#ff1a1a" stroke-width="0.75" stroke-dasharray="1.5 1.3"/>
<path clip-path="url(#c2)" d="M23.50 401.34 C25.01 401.57 29.04 402.38 32.56 402.72 C36.08 403.06 41.37 402.93 44.64 403.38 C47.91 403.84 50.18 404.45 52.19 405.43 C54.20 406.41 55.66 408.12 56.72 409.27 C57.78 410.42 57.95 412.34 58.53 412.34 C59.11 412.34 59.31 410.59 60.19 409.27 C61.07 407.95 62.21 405.90 63.82 404.41 C65.43 402.91 67.14 401.40 69.86 400.31 C72.58 399.22 75.27 398.73 80.12 397.85 C84.98 396.98 93.34 395.91 99.00 395.04 C104.66 394.17 111.58 393.03 114.10 392.63" fill="none" stroke="#ff1a1a" stroke-width="0.75" stroke-dasharray="1.5 1.3"/>
<circle cx="34.67" cy="311.91" r="1.35" fill="#0000d8" stroke="#001" stroke-width="0.3"/>
<circle cx="36.94" cy="310.89" r="1.35" fill="#0000d8" stroke="#001" stroke-width="0.3"/>
<circle cx="39.20" cy="309.71" r="1.35" fill="#0000d8" stroke="#001" stroke-width="0.3"/>
<rect x="64.43" y="262.39" width="2.70" height="2.70" fill="#0000e0"/>
<rect x="65.94" y="261.62" width="2.70" height="2.70" fill="#0000e0"/>
<rect x="67.45" y="260.94" width="2.70" height="2.70" fill="#0000e0"/>
<rect x="68.96" y="260.14" width="2.70" height="2.70" fill="#0000e0"/>
<rect x="70.47" y="259.77" width="2.70" height="2.70" fill="#0000e0"/>
<rect x="71.98" y="258.92" width="2.70" height="2.70" fill="#0000e0"/>
<rect x="73.49" y="259.40" width="2.70" height="2.70" fill="#0000e0"/>
<rect x="75.00" y="258.24" width="2.70" height="2.70" fill="#0000e0"/>
<rect x="76.51" y="257.04" width="2.70" height="2.70" fill="#0000e0"/>
<rect x="78.02" y="256.78" width="2.70" height="2.70" fill="#0000e0"/>
<rect x="79.53" y="255.85" width="2.70" height="2.70" fill="#0000e0"/>
<rect x="81.04" y="256.20" width="2.70" height="2.70" fill="#0000e0"/>
<rect x="82.55" y="255.14" width="2.70" height="2.70" fill="#0000e0"/>
<rect x="84.06" y="254.80" width="2.70" height="2.70" fill="#0000e0"/>
<rect x="85.57" y="253.81" width="2.70" height="2.70" fill="#0000e0"/>
<rect x="87.08" y="253.15" width="2.70" height="2.70" fill="#0000e0"/>
<circle cx="68.80" cy="261.58" r="0.8" fill="#fff" stroke="#000" stroke-width="0.45"/>
<circle cx="71.25" cy="260.54" r="0.8" fill="#fff" stroke="#000" stroke-width="0.45"/>
<circle cx="73.71" cy="259.50" r="0.8" fill="#fff" stroke="#000" stroke-width="0.45"/>
<circle cx="76.16" cy="258.46" r="0.8" fill="#fff" stroke="#000" stroke-width="0.45"/>
<circle cx="78.62" cy="257.42" r="0.8" fill="#fff" stroke="#000" stroke-width="0.45"/>
<circle cx="81.07" cy="256.38" r="0.8" fill="#fff" stroke="#000" stroke-width="0.45"/>
<circle cx="83.52" cy="255.34" r="0.8" fill="#fff" stroke="#000" stroke-width="0.45"/>
<circle cx="85.98" cy="254.30" r="0.8" fill="#fff" stroke="#000" stroke-width="0.45"/>
<circle cx="88.43" cy="253.26" r="0.8" fill="#fff" stroke="#000" stroke-width="0.45"/>
<rect x="27.59" y="399.17" width="3.00" height="3.00" fill="#0000e0"/>
<rect x="32.87" y="397.33" width="3.00" height="3.00" fill="#0000e0"/>
<rect x="42.69" y="393.85" width="3.00" height="3.00" fill="#0000e0"/>
<rect x="48.73" y="391.90" width="3.00" height="3.00" fill="#0000e0"/>
<rect x="61.56" y="387.09" width="3.00" height="3.00" fill="#0000e0"/>
<rect x="65.34" y="386.78" width="3.00" height="3.00" fill="#0000e0"/>
<rect x="69.41" y="384.78" width="3.00" height="3.00" fill="#0000e0"/>
<rect x="75.45" y="384.37" width="3.00" height="3.00" fill="#0000e0"/>
<rect x="82.85" y="384.12" width="3.00" height="3.00" fill="#0000e0"/>
<rect x="32.62" y="352.06" width="2.30" height="2.30" fill="#0000e0"/>
<rect x="34.11" y="351.93" width="2.30" height="2.30" fill="#0000e0"/>
<rect x="35.60" y="351.81" width="2.30" height="2.30" fill="#0000e0"/>
<rect x="37.09" y="351.68" width="2.30" height="2.30" fill="#0000e0"/>
<rect x="38.58" y="351.55" width="2.30" height="2.30" fill="#0000e0"/>
<rect x="40.07" y="351.43" width="2.30" height="2.30" fill="#0000e0"/>
<rect x="41.56" y="351.30" width="2.30" height="2.30" fill="#0000e0"/>
<rect x="43.06" y="351.17" width="2.30" height="2.30" fill="#0000e0"/>
<rect x="44.55" y="351.05" width="2.30" height="2.30" fill="#0000e0"/>
<rect x="61.46" y="344.03" width="3.20" height="3.20" fill="#0000e0"/>
<rect x="69.01" y="340.70" width="3.20" height="3.20" fill="#0000e0"/>
<rect x="75.20" y="337.84" width="3.20" height="3.20" fill="#0000e0"/>
<rect x="91.36" y="350.88" width="2.60" height="2.60" fill="#0000e0"/>
<text x="21.30" y="246.25" font-size="4.60" text-anchor="end" fill="#111" >0</text>
<text x="21.30" y="225.77" font-size="4.60" text-anchor="end" fill="#111" >40</text>
<text x="21.30" y="205.29" font-size="4.60" text-anchor="end" fill="#111" >80</text>
<text x="21.30" y="184.81" font-size="4.60" text-anchor="end" fill="#111" >120</text>
<text x="21.30" y="330.35" font-size="4.60" text-anchor="end" fill="#111" >0</text>
<text x="21.30" y="309.87" font-size="4.60" text-anchor="end" fill="#111" >40</text>
<text x="21.30" y="289.39" font-size="4.60" text-anchor="end" fill="#111" >80</text>
<text x="21.30" y="268.91" font-size="4.60" text-anchor="end" fill="#111" >120</text>
<text x="21.30" y="414.55" font-size="4.60" text-anchor="end" fill="#111" >0</text>
<text x="21.30" y="394.07" font-size="4.60" text-anchor="end" fill="#111" >40</text>
<text x="21.30" y="373.59" font-size="4.60" text-anchor="end" fill="#111" >80</text>
<text x="21.30" y="353.11" font-size="4.60" text-anchor="end" fill="#111" >120</text>
<text x="23.50" y="418.50" font-size="4.60" text-anchor="middle" fill="#111" >0</text>
<text x="53.70" y="418.50" font-size="4.60" text-anchor="middle" fill="#111" >20</text>
<text x="83.90" y="418.50" font-size="4.60" text-anchor="middle" fill="#111" >40</text>
<text x="114.10" y="418.50" font-size="4.60" text-anchor="middle" fill="#111" >60</text>
<text x="69.30" y="422.30" font-size="5.10" text-anchor="middle" fill="#111" >H (kOe)</text>
<text x="27.5" y="173.9" font-size="6.8" fill="#111" textLength="27.4" lengthAdjust="spacingAndGlyphs" style="stroke-width:0.1px">ZnCr<tspan font-size="4.4" dy="2.2">2</tspan><tspan dy="-2.2">O</tspan><tspan font-size="4.4" dy="2.2">4</tspan></text>
<text x="96.30" y="206.60" font-size="3.35" class="lg" fill="#111">H</text>
<path d="M100.05 204.05v2.9 M101.05 204.05v2.9" stroke="#444" stroke-width="0.4" fill="none"/>
<text x="102.30" y="206.60" font-size="3.35" class="lg" fill="#111">c</text>
<text x="96.30" y="211.10" font-size="3.35" class="lg" fill="#111">H</text>
<path d="M100.05 208.55v2.9 M101.05 208.55v2.9" stroke="#444" stroke-width="0.4" fill="none"/>
<text x="102.30" y="211.10" font-size="3.35" class="lg" fill="#111">x=y</text>
<text x="95.40" y="241.60" font-size="4.90" text-anchor="start" fill="#111" textLength="19.9" lengthAdjust="spacingAndGlyphs">H || &lt;001&gt;</text>
<text x="38.00" y="282.70" font-size="3.35" class="lg" fill="#111">H</text>
<path d="M41.75 280.15v2.9 M42.75 280.15v2.9" stroke="#444" stroke-width="0.4" fill="none"/>
<text x="44.00" y="282.70" font-size="3.35" class="lg" fill="#111">2<tspan font-size="2.3" dy="-1.4">1/2</tspan><tspan dy="1.4">x=z</tspan></text>
<text x="38.00" y="287.70" font-size="3.35" class="lg" fill="#111">H</text>
<path d="M41.75 285.15v2.9 M42.75 285.15v2.9" stroke="#444" stroke-width="0.4" fill="none"/>
<text x="44.00" y="287.70" font-size="3.35" class="lg" fill="#111">2<tspan font-size="2.3" dy="-1.4">1/2</tspan><tspan dy="1.4">y=z</tspan></text>
<text x="93.00" y="325.80" font-size="4.90" text-anchor="start" fill="#111" textLength="19.8" lengthAdjust="spacingAndGlyphs">H || &lt;111&gt;</text>
<text x="50.60" y="347.00" font-size="4.6" font-style="italic" font-weight="bold" fill="#222">a'</text>
<text x="36.30" y="366.70" font-size="3.35" class="lg" fill="#111">H</text>
<path d="M40.05 364.15v2.9 M41.05 364.15v2.9" stroke="#444" stroke-width="0.4" fill="none"/>
<text x="42.30" y="366.70" font-size="3.35" class="lg" fill="#111">x=3y/(2)<tspan font-size="2.3" dy="-1.4">1/2</tspan></text>
<text x="36.30" y="371.00" font-size="3.35" class="lg" fill="#111">H</text>
<path d="M40.05 368.45v2.9 M41.05 368.45v2.9" stroke="#444" stroke-width="0.4" fill="none"/>
<text x="42.30" y="371.00" font-size="3.35" class="lg" fill="#111">x</text>
<text x="36.30" y="375.40" font-size="3.35" class="lg" fill="#111">H</text>
<path d="M40.05 372.85v2.9 M41.05 372.85v2.9" stroke="#444" stroke-width="0.4" fill="none"/>
<text x="42.30" y="375.40" font-size="3.35" class="lg" fill="#111">y</text>
<text x="92.00" y="408.80" font-size="4.90" text-anchor="start" fill="#111" textLength="19.9" lengthAdjust="spacingAndGlyphs">H || &lt;110&gt;</text>
</svg>
</body></html>
